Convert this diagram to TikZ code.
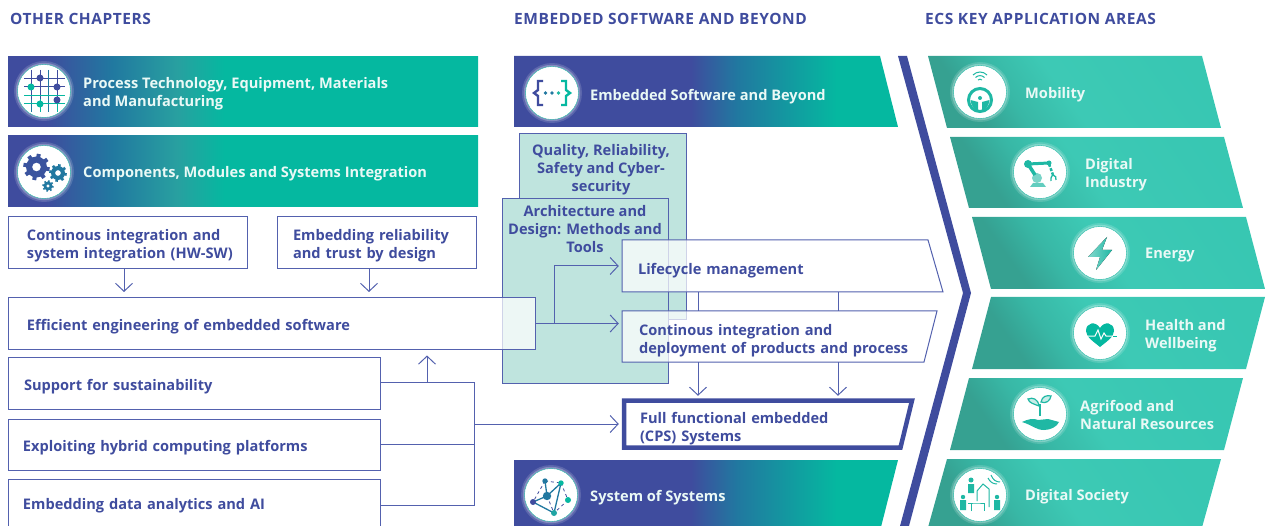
\documentclass[tikz,border=0pt]{standalone}
\usepackage{fontspec}
\setmainfont{Open Sans}
\newfontfamily\headfont{Open Sans}[LetterSpace=3.5]
\usetikzlibrary{arrows.meta}

\definecolor{ecsblue}{HTML}{3F4C9E}
\definecolor{ecsline}{HTML}{5361AE}
\definecolor{ecsteal}{HTML}{05B8A0}
\definecolor{ecspale}{HTML}{BFE4DE}
\definecolor{ecsmid}{HTML}{2178A0}
\definecolor{ecsicon}{HTML}{1FB8A4}
\definecolor{ecstext}{HTML}{EAF9F6}

\pgfdeclarehorizontalshading{chapterbar}{100bp}{color(0bp)=(ecsblue); color(25bp)=(ecsblue); color(29bp)=(ecsblue); color(36bp)=(ecsmid); color(43bp)=(rgb,255:red,40;green,160;blue,160); color(48bp)=(ecsteal); color(100bp)=(ecsteal)}
\pgfdeclarehorizontalshading{softwarebar}{100bp}{color(0bp)=(ecsblue); color(25bp)=(ecsblue); color(48bp)=(ecsblue); color(54bp)=(ecsmid); color(67bp)=(ecsteal); color(100bp)=(ecsteal)}
\pgfdeclarehorizontalshading{areabar}{100bp}{rgb(0bp)=(.21,.63,.57); rgb(27bp)=(.21,.63,.57); rgb(36bp)=(.22,.72,.65); rgb(48bp)=(.24,.79,.71); rgb(75bp)=(.22,.78,.70); rgb(100bp)=(.22,.78,.70)}

\tikzstyle{heading} = [anchor=west,inner sep=0pt,text=ecsblue,font=\headfont\fontsize{15.5}{18}\selectfont\bfseries]
\tikzstyle{chapter} = [rectangle,shading=chapterbar,minimum width=470pt,anchor=center]
\tikzstyle{bartext} = [anchor=west,inner sep=0pt,align=left,text=ecstext,font=\fontsize{14.6}{18}\selectfont\bfseries]
\tikzstyle{box} = [draw=ecsline,line width=1pt,fill=white,fill opacity=.72,text opacity=1,inner ysep=0pt,align=left,text=ecsblue,font=\fontsize{14.6}{18}\selectfont\bfseries,execute at begin node={\rule{0pt}{17pt}}]
\tikzstyle{panel} = [draw=ecsline,line width=1pt,fill=ecspale]
\tikzstyle{paneltext} = [inner sep=0pt,align=center,text=ecsblue,font=\fontsize{14.6}{18}\selectfont\bfseries]
\tikzstyle{slant} = [draw=ecsline,line width=1pt,fill=white,fill opacity=.72]
\tikzstyle{slanttext} = [inner ysep=0pt,align=left,text=ecsblue,font=\fontsize{14.6}{18}\selectfont\bfseries,execute at begin node={\rule{0pt}{20pt}}]
\tikzstyle{area} = [shading=areabar,shading angle=35]
\tikzstyle{badge} = [circle,fill=white,draw=ecsicon,line width=.4pt,minimum size=53pt,inner sep=0pt,preaction={draw=white,opacity=.15,line width=7pt},preaction={draw=white,opacity=.25,line width=3.5pt}]
\tikzstyle{edge} = [draw=ecsline,line width=1pt]
\tikzstyle{flow} = [draw=ecsline,line width=1pt,-{Straight Barb[length=8pt,width=17pt]}]

\newcommand{\gearicon}[4]{%
  \fill [#4,even odd rule] (#1,#2) circle (#3) circle (#3*.42);
  \foreach \a in {0,45,...,315}
    \draw [#4,line width=#3*.38pt] (#1,#2) ++(\a+10:#3*.9) -- ++(\a+10:#3*.36);
}

\begin{document}
\begin{tikzpicture}[x=1pt,y=-1pt]
    \path [use as bounding box,clip] (0,0) rectangle (1268,526);

    % headings
    \node [style=heading] (HeadOther) at (10,18.5) {OTHER CHAPTERS};
    \node [style=heading] (HeadSoftware) at (514,18.5) {EMBEDDED SOFTWARE AND BEYOND};
    \node [style=heading] (HeadAreas) at (925,18.5) {ECS KEY APPLICATION AREAS};

    % left banners
    \node [style=chapter,minimum height=70pt] (Process) at (243,92) {};
    \node [style=chapter,minimum height=71pt] (Components) at (243,171.5) {};
    \node [style=bartext] (ProcessText) at (83,93.5) {Process Technology, Equipment, Materials\\and Manufacturing};
    \node [style=bartext] (ComponentsText) at (83,174) {Components, Modules and Systems Integration};

    % middle banners
    \shade [shading=softwarebar] (514,56) -- (880,56) -- (898,127) -- (514,127) -- cycle;
    \shade [shading=softwarebar] (514,460) -- (898,460) -- (880,531) -- (514,531) -- cycle;
    \node [style=bartext] (SoftwareText) at (590,96.5) {Embedded Software and Beyond};
    \node [style=bartext] (SystemsText) at (590,498) {System of Systems};

    % chevron
    \fill [ecsblue] (898,56) -- (907,56) -- (971,293) -- (909,526) -- (900,526) -- (963,293) -- cycle;

    % application areas
    \shade [style=area] (928,56) -- (1202,56) -- (1221,128) -- (947,128) -- cycle;
    \shade [style=area] (950,137) -- (1224,137) -- (1243,208) -- (969,208) -- cycle;
    \shade [style=area] (972,217) -- (1246,217) -- (1265,289) -- (991,289) -- cycle;
    \shade [style=area] (991,297) -- (1265,297) -- (1246,369) -- (972,369) -- cycle;
    \shade [style=area] (969,378) -- (1243,378) -- (1224,450) -- (950,450) -- cycle;
    \shade [style=area] (947,459) -- (1221,459) -- (1201,531) -- (927,531) -- cycle;
    \node [style=bartext] (MobilityText) at (1025,95) {Mobility};
    \node [style=bartext] (IndustryText) at (1085,174.5) {Digital\\Industry};
    \node [style=bartext] (EnergyText) at (1145,255.5) {Energy};
    \node [style=bartext] (HealthText) at (1145,336) {Health and\\Wellbeing};
    \node [style=bartext] (AgrifoodText) at (1080,415) {Agrifood and\\Natural Resources};
    \node [style=bartext] (SocietyText) at (1025,497) {Digital Society};

    % badges
    \node [style=badge] (ProcessBadge) at (44,91) {};
    \node [style=badge] (ComponentsBadge) at (44,172) {};
    \node [style=badge] (SoftwareBadge) at (552,93) {};
    \node [style=badge] (SystemsBadge) at (551,495) {};
    \node [style=badge] (MobilityBadge) at (980,92) {};
    \node [style=badge] (IndustryBadge) at (1040,172) {};
    \node [style=badge] (EnergyBadge) at (1100,253) {};
    \node [style=badge] (HealthBadge) at (1100,333) {};
    \node [style=badge] (AgrifoodBadge) at (1040,414) {};
    \node [style=badge] (SocietyBadge) at (980,495) {};

    % process icon
    \begin{scope}[shift={(44,91)}]
        \draw [ecsblue,line width=1pt] (-13,-21) -- (-13,8) (-4,-21) -- (-4,8) (13,-21) -- (13,8) (-20,-12) -- (21,-12) (-20,-4) -- (21,-4);
        \draw [ecsmid,line width=1pt] (4,-21) -- (4,21) (-13,8) -- (-13,21);
        \draw [ecsteal,line width=1pt] (-4,8) -- (-4,21) (13,8) -- (13,21) (-20,5) -- (21,5) (-20,13) -- (21,13);
        \fill [ecsblue] (-4,-13) circle (3.5) (13,-4) circle (3.5) (13,9) circle (3.5);
        \fill [ecsteal] (-13,-4) circle (3.5) (-4,13) circle (3.5);
    \end{scope}

    % gears icon
    \gearicon{36.5}{167}{10.5}{ecsblue!85!ecsmid}
    \gearicon{58}{173}{7}{ecsmid}
    \gearicon{48}{186}{4.5}{ecsmid}

    % braces icon
    \begin{scope}[shift={(552,93)}]
        \draw [ecsblue,line width=2.4pt] (-9,-12) -- (-14,-12) -- (-14,-3) -- (-18,0) -- (-14,3) -- (-14,12) -- (-9,12);
        \draw [ecsteal,line width=2.4pt] (9,-12) -- (14,-12) -- (14,-3) -- (18,0) -- (14,3) -- (14,12) -- (9,12);
        \fill [ecsmid] (-6.5,0) circle (1.9) (0,0) circle (1.9);
        \fill [ecsicon] (6.5,0) circle (1.9);
    \end{scope}

    % network icon
    \begin{scope}[shift={(551,495)}]
        \draw [ecsblue,line width=.8pt,dashed] (-6,-14) -- (10,-12) (-6,-14) -- (-18,7) (10,-12) -- (17,5) (17,5) -- (3,18) (-4,1) -- (3,18);
        \draw [ecsmid,line width=1.3pt] (-6,-14) -- (-4,1) (-18,7) -- (-4,1) -- (10,-12) -- (3,18) -- (-18,7);
        \fill [ecsmid] (-6,-14) circle (2.7) (-4,1) circle (4.2);
        \fill [ecsblue] (-18,7) circle (3);
        \fill [ecsteal] (10,-12) circle (2.7) (17,5) circle (3);
        \fill [ecsicon!70!ecsmid] (3,18) circle (3);
    \end{scope}

    % steering wheel icon
    \begin{scope}[shift={(980,92)}]
        \draw [ecsicon,line width=3pt] (0,8) circle (11.5);
        \fill [ecsicon] (-9.5,8) -- (-2,10) -- (-2,19) .. controls (-6,18) and (-9,13) .. (-9.5,8) -- cycle;
        \fill [ecsicon] (9.5,8) -- (2,10) -- (2,19) .. controls (6,18) and (9,13) .. (9.5,8) -- cycle;
        \fill [ecsicon] (0,6) circle (2);
        \draw [ecsicon,line width=1pt] (-7,-17) .. controls (-3,-21) and (3,-21) .. (7,-17);
        \draw [ecsicon,line width=1pt] (-4.5,-14.5) .. controls (-2,-17) and (2,-17) .. (4.5,-14.5);
        \draw [ecsicon,line width=1pt] (-2,-12) .. controls (-1,-13) and (1,-13) .. (2,-12);
    \end{scope}

    % robot icon
    \begin{scope}[shift={(1040,172)}]
        \fill [ecsicon!70] (-10,15) -- (-7,11) -- (3,11) -- (6,15) -- cycle;
        \fill [ecsicon!60] (-3,6) circle (5);
        \draw [ecsicon,line width=3pt] (-12,-8) -- (9,-9);
        \draw [ecsicon,line width=3.5pt] (-12,-8) -- (-5,3);
        \fill [ecsicon] (-12,-8) circle (4) (9,-9) circle (2.5);
        \draw [ecsicon,line width=2.5pt,dash pattern=on 3pt off 1.5pt] (9,-8) -- (13,3);
        \draw [ecsicon,line width=1.3pt] (11,9) .. controls (10,5) and (13,3) .. (13,3) .. controls (15,3) and (17,6) .. (16,8);
    \end{scope}

    % bolt icon
    \begin{scope}[shift={(1100,253)}]
        \fill [left color=ecsicon!55!white,right color=ecsicon] (7,-16) -- (-12,4) -- (0,4) -- (-4,17) -- (12,-3) -- (2,-3) -- cycle;
    \end{scope}

    % heart icon
    \begin{scope}[shift={(1100,333)}]
        \fill [ecsteal] (0,-5) .. controls (-4,-12) and (-14,-11) .. (-14,-2) .. controls (-14,4) and (-6,9) .. (0,14) .. controls (6,9) and (14,4) .. (14,-2) .. controls (14,-11) and (4,-12) .. (0,-5) -- cycle;
        \draw [white,line width=1pt] (-14,3) -- (-5,3) -- (-2,-3) -- (1,6) -- (4,0) -- (6,3) -- (14,3);
        \draw [ecsteal,line width=1pt] (13,3) -- (17,3);
    \end{scope}

    % sprout icon
    \begin{scope}[shift={(1040,414)}]
        \draw [ecsicon,line width=1.2pt] (0,2) -- (0,-10);
        \draw [ecsicon,line width=1.2pt,fill=ecsicon!25] (-1,-8) .. controls (-6,-10) and (-11,-11) .. (-12,-15) .. controls (-7,-17) and (-2,-15) .. (-1,-8) -- cycle;
        \draw [ecsicon,line width=1.2pt,fill=ecsicon!25] (1,-12) .. controls (2,-18) and (7,-19) .. (11,-18) .. controls (10,-13) and (6,-10) .. (1,-12) -- cycle;
        \fill [ecsicon] (-18,8) .. controls (-12,5) and (-6,4) .. (-2,6) -- (8,5) -- (19,8) .. controls (17,13) and (10,16) .. (4,16) .. controls (-4,16) and (-8,11) .. (-18,8) -- cycle;
    \end{scope}

    % society icon
    \begin{scope}[shift={(980,495)}]
        \fill [ecsicon] (-9,-15) circle (2.5) (-12,-11) rectangle (-6,-2);
        \fill [ecsicon] (-17,2) circle (2.2) (-20,5) rectangle (-14,15);
        \fill [ecsicon] (17,2) circle (2.2) (14,5) rectangle (20,15);
        \draw [ecsicon,line width=1pt] (-3,6) -- (-3,-4) -- (3,-11) -- (9,-6) -- (9,12);
        \draw [ecsicon,line width=1pt] (-12,8) -- (-3,8) -- (4,8) -- (4,16) (-9,16) -- (-9,8);
        \draw [ecsicon,line width=1pt] (8,-17) .. controls (10,-13) and (13,-11) .. (17,-11);
        \draw [ecsicon,line width=1pt] (11,-20) .. controls (13,-15) and (16,-13) .. (20,-13);
    \end{scope}

    % teal panels
    \node [style=panel,minimum width=167pt,minimum height=186pt] (Quality) at (603,227) {};
    \node [style=paneltext] (QualityText) at (601,169.5) {Quality, Reliability,\\Safety and Cyber-\\security};
    \node [style=panel,minimum width=166pt,minimum height=184pt] (Architecture) at (585,291) {};
    \node [style=paneltext] (ArchitectureText) at (585,229) {Architecture and\\Design: Methods and\\Tools};

    % left boxes
    \node [style=box,minimum height=52pt,text width=201pt,inner xsep=19pt] (Continuous) at (127.5,243) {Continous integration and\\\mbox{system integration (HW-SW)}};
    \node [style=box,minimum height=52pt,text width=167pt,inner xsep=16pt] (Reliability) at (376.5,243) {Embedding reliability\\and trust by design};
    \node [style=box,minimum height=51pt,text width=489pt,inner xsep=19pt] (Efficient) at (271.5,323.5) {Efficient engineering of embedded software};
    \node [style=box,minimum height=52pt,text width=340pt,inner xsep=16pt] (Support) at (194,383.5) {Support for sustainability};
    \node [style=box,minimum height=51pt,text width=342pt,inner xsep=15pt] (Exploiting) at (194,444.5) {Exploiting hybrid computing platforms};
    \node [style=box,minimum height=48pt,text width=342pt,inner xsep=15pt] (Analytics) at (194,503) {Embedding data analytics and AI};

    % slanted boxes
    \fill [style=slant] (622,240) -- (928,240) -- (943,292) -- (622,292) -- cycle;
    \fill [style=slant] (622,311) -- (937,311) -- (924,362) -- (622,362) -- cycle;
    \draw [fill=white,draw=ecsblue,line width=4.5pt] (624,400.5) -- (912,400.5) -- (900.5,447.5) -- (624,447.5) -- cycle;
    \node [style=slanttext,minimum height=52pt,text width=289pt,inner xsep=16pt] (Lifecycle) at (782.5,266) {Lifecycle management};
    \node [style=slanttext,minimum height=51pt,text width=281pt,inner xsep=17pt,execute at begin node={\rule{0pt}{15pt}}] (Deployment) at (779.5,336.5) {Continous integration and\\deployment of products and process};
    \node [style=slanttext,minimum height=52pt,text width=257pt,inner xsep=18pt] (Full) at (768.5,424) {Full functional embedded\\(CPS) Systems};

    % connector points
    \coordinate (DownA) at (124,292);
    \coordinate (DownB) at (369,292);
    \coordinate (BusTop) at (474,382);
    \coordinate (BusMid) at (474,444);
    \coordinate (BusOut) at (474,424);
    \coordinate (BusEnd) at (474,505);
    \coordinate (UpFoot) at (427,382);
    \coordinate (Branch) at (554,323.5);
    \coordinate (DropA) at (698,300);
    \coordinate (DropB) at (838,300);

    \draw [style=flow] (DownA |- Continuous.south) -- (DownA);
    \draw [style=flow] (DownB |- Reliability.south) -- (DownB);
    \draw [style=edge] (Support.east |- BusTop) -- (BusTop) -- (BusEnd) -- (Analytics.east |- BusEnd);
    \draw [style=edge] (Exploiting.east |- BusMid) -- (BusMid);
    \draw [style=flow,shorten >=6pt] (UpFoot) -- (UpFoot |- Efficient.south);
    \draw [style=flow,shorten >=3pt] (BusOut) -- (Full.west);
    \draw [style=flow,shorten >=3pt] (Efficient.east) -- (Efficient.east -| Deployment.west);
    \draw [style=flow,shorten >=3pt] (Branch) |- (Lifecycle.west);
    \draw [style=edge] (DropA |- Lifecycle.south) -- (DropA |- Deployment.north);
    \draw [style=edge] (DropB |- Lifecycle.south) -- (DropB |- Deployment.north);
    \draw [style=flow,shorten >=2pt] (DropA |- Deployment.south) -- (DropA |- Full.north);
    \draw [style=flow,shorten >=2pt] (DropB |- Deployment.south) -- (DropB |- Full.north);
\end{tikzpicture}
\end{document}
